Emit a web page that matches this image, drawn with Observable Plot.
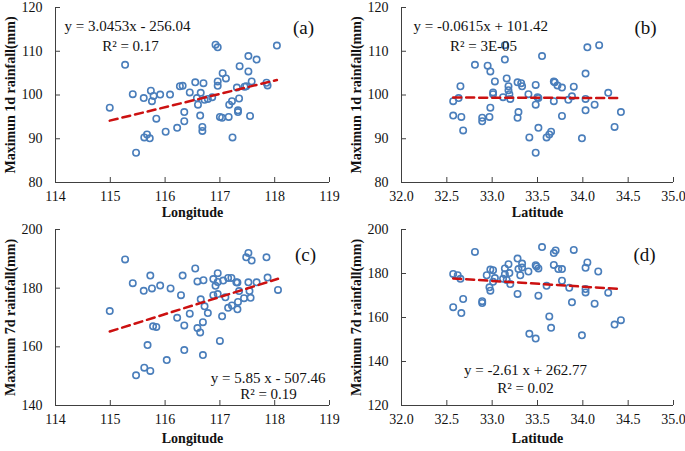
<!DOCTYPE html>
<html>
<head>
<meta charset="utf-8">
<script src="https://cdn.jsdelivr.net/npm/d3@7"></script>
<script src="https://cdn.jsdelivr.net/npm/@observablehq/plot@0.6"></script>
<style>
  html, body { margin: 0; padding: 0; background: #fff; }
  #wrap { position: relative; width: 685px; height: 451px; overflow: hidden; background: #fff; }
  #wrap > svg { position: absolute; }
  g[aria-label="x-axis label"] text, g[aria-label="y-axis label"] text { font-weight: bold; }
</style>
</head>
<body>
<div id="wrap"></div>
<script>
// ---------- Data ----------
// (a) Longitude vs Maximum 1d rainfall
const lonA = [114.99,115.27,115.41,115.47,115.61,115.62,115.67,115.72,115.74,115.76,115.79,115.84,115.91,116.01,116.09,116.22,116.27,116.32,116.35,116.35,116.45,116.55,116.58,116.60,116.64,116.65,116.68,116.68,116.70,116.72,116.78,116.86,116.92,116.96,116.96,116.96,117.00,117.04,117.05,117.11,117.16,117.17,117.22,117.23,117.31,117.33,117.33,117.35,117.36,117.45,117.48,117.52,117.52,117.55,117.58,117.67,117.85,117.87,118.04];
const rain1dA = [97.1,106.9,100.2,86.8,99.3,90.3,91.0,90.1,101.0,98.6,99.8,94.6,100.1,91.6,100.1,92.5,102.0,102.1,96.1,94.0,100.6,102.9,99.3,97.8,95.3,100.5,92.7,91.8,102.7,98.9,99.1,99.5,111.5,110.9,103.1,102.1,95.0,94.8,105.0,103.8,95.0,97.8,98.6,90.3,101.7,96.5,96.1,99.2,106.6,101.9,102.0,108.9,105.4,95.2,103.1,108.1,102.8,102.2,111.3];

// (b) Latitude vs Maximum 1d rainfall
const latB = [32.57,32.57,32.63,32.65,32.66,32.68,32.81,32.89,32.89,32.95,32.97,32.98,32.98,33.01,33.01,33.03,33.12,33.14,33.14,33.16,33.18,33.18,33.19,33.20,33.28,33.28,33.29,33.32,33.33,33.40,33.41,33.48,33.48,33.48,33.50,33.51,33.51,33.55,33.60,33.63,33.65,33.68,33.69,33.68,33.72,33.77,33.77,33.84,33.88,33.90,33.99,34.03,34.03,34.03,34.05,34.13,34.18,34.28,34.35,34.42];
const rain1dB = [98.6,95.3,99.3,102.0,95.0,91.9,106.9,94.8,94.0,106.7,95.0,105.4,97.1,100.6,100.2,103.1,99.5,111.4,108.1,103.8,102.0,101.1,100.2,99.1,102.9,94.8,96.1,102.7,102.0,100.2,90.3,102.3,97.8,86.8,99.5,99.3,92.5,108.9,90.3,91.0,91.6,103.1,102.9,98.6,102.2,101.7,95.2,98.9,99.7,101.9,90.1,104.9,99.1,96.5,110.9,97.8,111.4,100.5,92.7,96.1];

// (c) Longitude vs Maximum 7d rainfall
const lonC = [114.99,115.27,115.41,115.47,115.61,115.62,115.68,115.73,115.73,115.76,115.78,115.84,115.91,116.03,116.10,116.22,116.29,116.32,116.35,116.35,116.45,116.55,116.59,116.59,116.64,116.65,116.69,116.69,116.70,116.72,116.78,116.88,116.88,116.92,116.96,116.96,116.96,117.00,117.04,117.06,117.10,117.15,117.15,117.21,117.22,117.30,117.32,117.33,117.32,117.35,117.44,117.48,117.52,117.52,117.54,117.56,117.58,117.67,117.85,117.87,118.06];
const rain7dC = [172.2,189.8,181.7,150.3,179.1,152.9,160.6,151.8,184.3,179.9,167.0,166.8,180.9,155.5,179.9,169.9,177.6,184.3,167.3,158.9,171.3,186.7,182.3,166.4,164.9,176.2,168.4,157.2,182.7,173.8,171.5,183.1,177.6,180.8,185.1,178.0,182.1,162.0,170.4,182.6,176.9,183.5,173.3,183.5,174.1,182.0,181.9,175.3,172.8,179.0,176.6,190.5,192.0,182.0,179.0,176.7,189.4,182.0,190.5,183.6,179.4];

// (d) Latitude vs Maximum 7d rainfall
const latD = [32.57,32.57,32.62,32.65,32.66,32.68,32.81,32.89,32.89,32.94,32.97,32.98,32.98,33.01,33.01,33.03,33.12,33.14,33.14,33.16,33.18,33.19,33.20,33.28,33.28,33.29,33.31,33.33,33.33,33.40,33.41,33.48,33.49,33.51,33.48,33.51,33.55,33.60,33.63,33.65,33.68,33.68,33.70,33.73,33.77,33.77,33.85,33.88,33.90,33.99,34.03,34.03,34.03,34.05,34.13,34.17,34.28,34.35,34.42];
const rain7dD = [179.8,164.7,179.2,177.6,162.0,168.4,189.8,167.4,166.6,179.2,173.7,172.2,181.8,176.2,181.5,177.9,177.6,182.3,179.7,177.1,184.2,180.2,175.2,186.8,170.7,182.0,179.2,184.5,182.7,180.9,152.6,183.8,183.2,182.3,150.4,169.9,192.0,174.4,160.5,155.3,183.9,189.3,190.5,182.0,182.0,176.7,173.5,166.9,190.7,151.9,172.9,171.4,182.6,185.0,166.3,180.9,171.3,156.8,158.8];

// Trend lines (as printed on the chart)
const slopes = [3.0453, -0.0615, 5.85, -2.61];
const intercepts = [-256.04, 101.42, -507.46, 262.77];
const equations = ["y = 3.0453x - 256.04", "y = -0.0615x + 101.42", "y = 5.85 x - 507.46", "y = -2.61 x + 262.77"];
const r2Labels = ["R² = 0.17", "R² = 3E-05", "R² = 0.19", "R² = 0.02"];
const tags = ["(a)", "(b)", "(c)", "(d)"];

// Axes
const lonTicks = [114, 115, 116, 117, 118, 119];
const latTicks = [32.0, 32.5, 33.0, 33.5, 34.0, 34.5, 35.0];
const y1dTicks = [80, 90, 100, 110, 120];
const y7dTicksC = [140, 160, 180, 200];
const y7dTicksD = [120, 140, 160, 180, 200];
const xLabels = ["Longitude", "Latitude"];
const yLabels = ["Maximun 1d rainfall(mm)", "Maximun 7d rainfall(mm)"];

// ---------- Drawing ----------
const FONT = "'Liberation Serif', 'Times New Roman', Times, serif";
const AXIS = "#404040";

function panel(o) {
  const pts = o.xs.map((v, i) => ({x: v, y: o.ys[i]}));
  const ext = d3.extent(o.xs);
  const trend = ext.map(v => ({x: v, y: o.slope * v + o.intercept}));
  const svg = Plot.plot({
    width: o.width, height: o.height,
    marginLeft: o.ml, marginRight: o.mr, marginTop: o.mt, marginBottom: o.mb,
    style: {fontFamily: FONT, fontSize: "14px", color: "#111", background: "transparent", overflow: "visible"},
    x: {domain: o.xDomain},
    y: {domain: o.yDomain},
    marks: [
      Plot.ruleX([o.xDomain[0]], {stroke: AXIS, strokeWidth: 1}),
      Plot.ruleY([o.yDomain[0]], {stroke: AXIS, strokeWidth: 1}),
      Plot.axisX({ticks: o.xTicks, tickFormat: o.xFmt, tickSize: -5, tickPadding: 14, stroke: AXIS,
        label: o.xLabel, labelAnchor: "center", labelArrow: "none", labelOffset: o.xLabelOffset}),
      Plot.axisY({ticks: o.yTicks, tickFormat: d => String(d), tickSize: -5, tickPadding: 18, stroke: AXIS,
        label: o.yLabel, labelAnchor: "center", labelArrow: "none", labelOffset: 50}),
      Plot.dot(pts, {x: "x", y: "y", r: 3.2, stroke: "#4a7ebb", strokeWidth: 1.6, fill: "none"}),
      Plot.line(trend, {x: "x", y: "y", stroke: "#cc1111", strokeWidth: 2.5, strokeDasharray: "8,5"}),
      Plot.text([o.eq], {frameAnchor: o.eqAnchor, textAnchor: o.eqTA, dx: o.eqDx, dy: o.eqDy, fontSize: 15, fill: "#111"}),
      Plot.text([o.r2], {frameAnchor: o.eqAnchor, textAnchor: "middle", dx: o.r2Dx, dy: o.r2Dy, fontSize: 15, fill: "#111"}),
      Plot.text([o.tag], {frameAnchor: "top-right", textAnchor: "middle", dx: o.tagDx, dy: o.tagDy, fontSize: 19, fill: "#111"})
    ]
  });
  svg.style.left = o.left + "px";
  svg.style.top = o.top + "px";
  return svg;
}

const wrap = document.getElementById("wrap");
const fmt1 = d => d.toFixed(1);

wrap.appendChild(panel({
  left: 0, top: 0, width: 345, height: 224, ml: 55, mr: 16, mt: 7, mb: 42,
  xs: lonA, ys: rain1dA, xDomain: [114, 119], yDomain: [80, 120],
  xTicks: lonTicks, xFmt: d => String(d), yTicks: y1dTicks,
  xLabel: xLabels[0], yLabel: yLabels[0], xLabelOffset: 34,
  slope: slopes[0], intercept: intercepts[0],
  eq: equations[0], r2: r2Labels[0], tag: tags[0],
  eqAnchor: "top-left", eqTA: "start", eqDx: 9, eqDy: 13, r2Dx: 75, r2Dy: 33, tagDx: -26, tagDy: 13
}));

wrap.appendChild(panel({
  left: 345, top: 0, width: 340, height: 224, ml: 56, mr: 12, mt: 7, mb: 42,
  xs: latB, ys: rain1dB, xDomain: [32, 35], yDomain: [80, 120],
  xTicks: latTicks, xFmt: fmt1, yTicks: y1dTicks,
  xLabel: xLabels[1], yLabel: yLabels[0], xLabelOffset: 34,
  slope: slopes[1], intercept: intercepts[1],
  eq: equations[1], r2: r2Labels[1], tag: tags[1],
  eqAnchor: "top-left", eqTA: "start", eqDx: 12, eqDy: 13, r2Dx: 82, r2Dy: 33, tagDx: -28, tagDy: 13
}));

wrap.appendChild(panel({
  left: 0, top: 224, width: 345, height: 227, ml: 55, mr: 16, mt: 5, mb: 46,
  xs: lonC, ys: rain7dC, xDomain: [114, 119], yDomain: [140, 200],
  xTicks: lonTicks, xFmt: d => String(d), yTicks: y7dTicksC,
  xLabel: xLabels[0], yLabel: yLabels[1], xLabelOffset: 37,
  slope: slopes[2], intercept: intercepts[2],
  eq: equations[2], r2: r2Labels[2], tag: tags[2],
  eqAnchor: "top-right", eqTA: "end", eqDx: -4, eqDy: 143, r2Dx: -61, r2Dy: 159, tagDx: -24, tagDy: 18
}));

wrap.appendChild(panel({
  left: 345, top: 224, width: 340, height: 227, ml: 56, mr: 12, mt: 5, mb: 46,
  xs: latD, ys: rain7dD, xDomain: [32, 35], yDomain: [120, 200],
  xTicks: latTicks, xFmt: fmt1, yTicks: y7dTicksD,
  xLabel: xLabels[1], yLabel: yLabels[1], xLabelOffset: 37,
  slope: slopes[3], intercept: intercepts[3],
  eq: equations[3], r2: r2Labels[3], tag: tags[3],
  eqAnchor: "top-left", eqTA: "middle", eqDx: 124, eqDy: 135, r2Dx: 124, r2Dy: 153, tagDx: -29, tagDy: 18
}));
</script>
</body>
</html>
